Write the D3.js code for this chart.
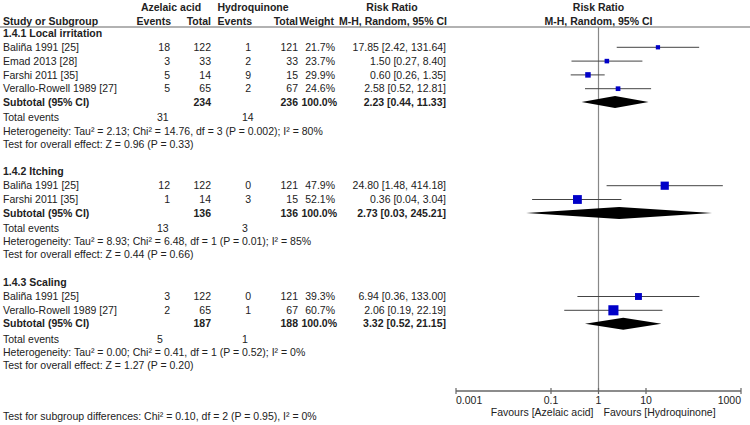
<!DOCTYPE html>
<html>
<head>
<meta charset="utf-8">
<script src="https://cdn.jsdelivr.net/npm/d3@7"></script>
<style>
  body { margin: 0; background: #fff; }
  text { font-family: "Liberation Sans", Arial, sans-serif; font-size: 10.5px; fill: #222; }
  .b { font-weight: bold; }
</style>
</head>
<body>
<div id="chart"></div>
<script>
// study level data
const studyNames = ['Baliña 1991 [25]', 'Emad 2013 [28]', 'Farshi 2011 [35]', 'Verallo-Rowell 1989 [27]',
	'Baliña 1991 [25]', 'Farshi 2011 [35]',
	'Baliña 1991 [25]', 'Verallo-Rowell 1989 [27]'];
const studyGroup = [0, 0, 0, 0, 1, 1, 2, 2];
const azEvents = [18, 3, 5, 5, 12, 1, 3, 2];
const azTotal = [122, 33, 14, 65, 122, 14, 122, 65];
const hqEvents = [1, 2, 9, 2, 0, 3, 0, 1];
const hqTotal = [121, 33, 15, 67, 121, 15, 121, 67];
const weights = [21.7, 23.7, 29.9, 24.6, 47.9, 52.1, 39.3, 60.7];
const rr = [17.85, 1.50, 0.60, 2.58, 24.80, 0.36, 6.94, 2.06];
const rrLow = [2.42, 0.27, 0.26, 0.52, 1.48, 0.04, 0.36, 0.19];
const rrHigh = [131.64, 8.40, 1.35, 12.81, 414.18, 3.04, 133.00, 22.19];

// subgroup data
const groupNames = ['1.4.1 Local irritation', '1.4.2 Itching', '1.4.3 Scaling'];
const subAzTotal = [234, 136, 187];
const subHqTotal = [236, 136, 188];
const subAzEvents = [31, 13, 5];
const subHqEvents = [14, 3, 1];
const subRR = [2.23, 2.73, 3.32];
const subLow = [0.44, 0.03, 0.52];
const subHigh = [11.33, 245.21, 21.15];
const hetText = [
	'Heterogeneity: Tau² = 2.13; Chi² = 14.76, df = 3 (P = 0.002); I² = 80%',
	'Heterogeneity: Tau² = 8.93; Chi² = 6.48, df = 1 (P = 0.01); I² = 85%',
	'Heterogeneity: Tau² = 0.00; Chi² = 0.41, df = 1 (P = 0.52); I² = 0%'];
const effectText = [
	'Test for overall effect: Z = 0.96 (P = 0.33)',
	'Test for overall effect: Z = 0.44 (P = 0.66)',
	'Test for overall effect: Z = 1.27 (P = 0.20)'];
const subgroupDiffText = 'Test for subgroup differences: Chi² = 0.10, df = 2 (P = 0.95), I² = 0%';

const axisTicks = [0.001, 0.1, 1, 10, 1000];
const axisTickLabels = ['0.001', '0.1', '1', '10', '1000'];
const favoursLeft = 'Favours [Azelaic acid]';
const favoursRight = 'Favours [Hydroquinone]';

var width = 750, height = 425;
var svg = d3.select('#chart').append('svg')
	.attr('width', width)
	.attr('height', height);

var x = d3.scaleLog().domain([0.001, 1000]).range([456, 741]);
var boxSize = d3.scaleLinear().domain([0, 100]).range([1, 16]);

// column positions (right edges for numbers)
var col = { study: 3, stats: 3, azE: 170, azT: 211, hqE: 251, hqT: 298, w: 335, rr: 446 };
var fmt2 = d3.format('.2f');
var pct = function (v) { return v.toFixed(1) + '%'; };

function txt(xp, yp, s, anchor, cls) {
	return svg.append('text')
		.attr('x', xp).attr('y', yp).attr('dy', '.35em')
		.attr('text-anchor', anchor || 'start')
		.attr('class', cls || null)
		.text(s);
}

// headers
txt(171, 7, 'Azelaic acid', 'middle', 'b');
txt(253, 7, 'Hydroquinone', 'middle', 'b');
txt(392, 7, 'Risk Ratio', 'middle', 'b');
txt(x(1), 7, 'Risk Ratio', 'middle', 'b');
txt(col.study, 21, 'Study or Subgroup', 'start', 'b');
txt(col.azE + 1, 21, 'Events', 'end', 'b');
txt(col.azT, 21, 'Total', 'end', 'b');
txt(col.hqE + 1, 21, 'Events', 'end', 'b');
txt(col.hqT, 21, 'Total', 'end', 'b');
txt(col.w - 1, 21, 'Weight', 'end', 'b');
txt(393, 21, 'M-H, Random, 95% CI', 'middle', 'b');
txt(x(1), 21, 'M-H, Random, 95% CI', 'middle', 'b');

svg.append('line')
	.attr('x1', 0).attr('x2', width)
	.attr('y1', 27).attr('y2', 27)
	.attr('stroke', '#666').attr('stroke-width', 1.2);

// row layout
var yCur = 33;
var groupRows = [];
groupNames.forEach(function (g, gi) {
	var rows = { header: yCur, studies: [] };
	yCur += 14.3;
	studyNames.forEach(function (s, i) {
		if (studyGroup[i] === gi) {
			rows.studies.push({ i: i, y: yCur });
			yCur += 13.8;
		}
	});
	rows.subtotal = yCur - 0.4;
	rows.total = rows.subtotal + 15.5;
	rows.het = rows.total + 13.3;
	rows.effect = rows.het + 13;
	yCur = rows.effect + 27.5;
	groupRows.push(rows);
});

// line of no effect
svg.append('line')
	.attr('x1', x(1)).attr('x2', x(1))
	.attr('y1', 27).attr('y2', 391)
	.attr('stroke', '#888').attr('stroke-width', 1.2);

groupRows.forEach(function (rows, gi) {
	txt(col.study, rows.header, groupNames[gi], 'start', 'b');
	rows.studies.forEach(function (r) {
		var i = r.i;
		txt(col.study, r.y, studyNames[i]);
		txt(col.azE, r.y, azEvents[i], 'end');
		txt(col.azT, r.y, azTotal[i], 'end');
		txt(col.hqE, r.y, hqEvents[i], 'end');
		txt(col.hqT, r.y, hqTotal[i], 'end');
		txt(col.w, r.y, pct(weights[i]), 'end');
		txt(col.rr, r.y, fmt2(rr[i]) + ' [' + fmt2(rrLow[i]) + ', ' + fmt2(rrHigh[i]) + ']', 'end');

		svg.append('line')
			.attr('x1', x(rrLow[i])).attr('x2', x(rrHigh[i]))
			.attr('y1', r.y).attr('y2', r.y)
			.attr('stroke', '#444').attr('stroke-width', 1);
		var s = boxSize(weights[i]);
		svg.append('rect')
			.attr('x', x(rr[i]) - s / 2).attr('y', r.y - s / 2)
			.attr('width', s).attr('height', s)
			.attr('fill', '#0000c8');
	});

	var ys = rows.subtotal;
	txt(col.study, ys, 'Subtotal (95% CI)', 'start', 'b');
	txt(col.azT, ys, subAzTotal[gi], 'end', 'b');
	txt(col.hqT, ys, subHqTotal[gi], 'end', 'b');
	txt(col.w + 2, ys, '100.0%', 'end', 'b');
	txt(col.rr, ys, fmt2(subRR[gi]) + ' [' + fmt2(subLow[gi]) + ', ' + fmt2(subHigh[gi]) + ']', 'end', 'b');
	svg.append('path')
		.attr('d', 'M' + x(subLow[gi]) + ',' + ys +
			'L' + x(subRR[gi]) + ',' + (ys - 6) +
			'L' + x(subHigh[gi]) + ',' + ys +
			'L' + x(subRR[gi]) + ',' + (ys + 6) + 'Z')
		.attr('fill', '#000');

	txt(col.study, rows.total, 'Total events');
	txt(157, rows.total, subAzEvents[gi], 'start');
	txt(242, rows.total, subHqEvents[gi], 'start');
	txt(col.stats, rows.het, hetText[gi]);
	txt(col.stats, rows.effect, effectText[gi]);
});

// axis
var axisY = 391;
svg.append('line')
	.attr('x1', x(0.001)).attr('x2', x(1000))
	.attr('y1', axisY).attr('y2', axisY)
	.attr('stroke', '#666').attr('stroke-width', 1.5);
svg.selectAll('.tick')
	.data(axisTicks)
	.enter().append('line')
	.attr('x1', function (d) { return x(d); })
	.attr('x2', function (d) { return x(d); })
	.attr('y1', axisY - 3).attr('y2', axisY + 3)
	.attr('stroke', '#666').attr('stroke-width', 1.2);
svg.selectAll('.ticklabel')
	.data(axisTicks)
	.enter().append('text')
	.attr('x', function (d) { return x(d); })
	.attr('y', 400).attr('dy', '.35em')
	.attr('text-anchor', function (d, i) {
		return i === 0 ? 'start' : (i === axisTicks.length - 1 ? 'end' : 'middle');
	})
	.text(function (d, i) { return axisTickLabels[i]; });

txt(x(1) - 5, 412, favoursLeft, 'end');
txt(x(1) + 5, 412, favoursRight, 'start');

txt(col.stats, 416, subgroupDiffText);
</script>
</body>
</html>
